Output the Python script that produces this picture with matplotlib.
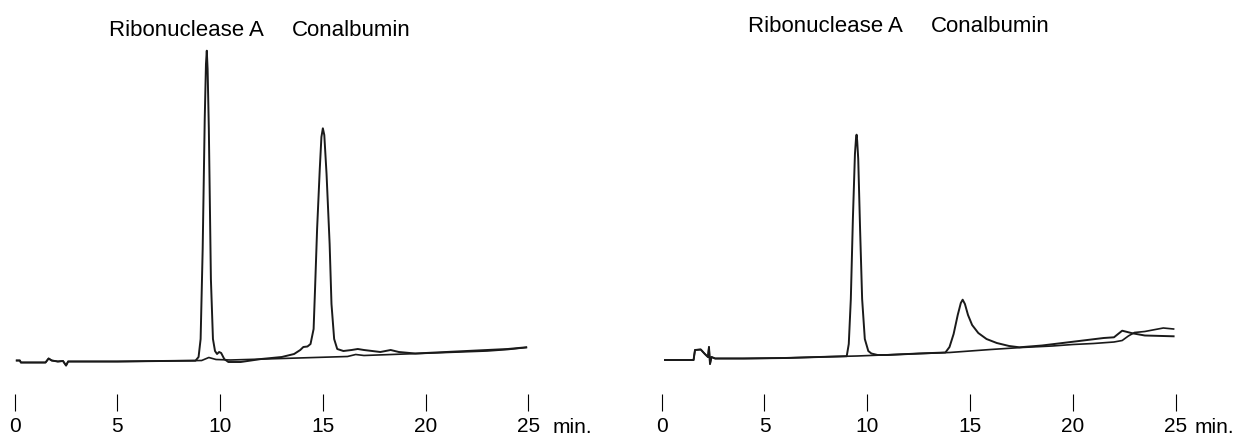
import matplotlib
matplotlib.use("Agg")
import matplotlib.pyplot as plt

plt.rcParams['font.family'] = ['Liberation Sans', 'DejaVu Sans']

# Левая хроматограмма: время (мин) и сигнал (усл. ед.)
left_blank_t = [0.10, 0.25, 0.30, 1.50, 1.65, 1.80, 2.10, 2.35, 2.50, 2.60, 5.0, 8.0, 9.1, 9.45, 9.8,
                10.5, 13.0, 16.2, 16.6, 17.0, 19.0, 21.0, 23.0, 24.0, 24.9]
left_blank_y = [8.5, 8.5, 6.5, 6.5, 10.5, 8.5, 7.5, 8.0, 3.5, 7.5, 7.5, 8.2, 8.5, 11.5, 9.5,
                9.0, 10.5, 12.5, 14.5, 13.5, 15.0, 16.5, 18.0, 19.5, 21.5]

left_sample_t = [0.10, 0.25, 0.30, 1.50, 1.65, 1.80, 2.10, 2.35, 2.50, 2.60, 5.0, 8.0,
                 8.8, 8.95, 9.05, 9.15, 9.25, 9.31, 9.35, 9.39, 9.45, 9.55, 9.65, 9.75, 9.85, 9.95,
                 10.05, 10.2, 10.4, 11.0, 12.0, 13.0, 13.6, 13.9, 14.05, 14.25, 14.4, 14.55, 14.62,
                 14.72, 14.85, 14.93, 15.0, 15.07, 15.18, 15.33, 15.42, 15.55, 15.7, 16.0, 16.4, 16.7,
                 17.0, 17.8, 18.3, 18.7, 19.5, 21.0, 22.5, 24.0, 24.9]
left_sample_y = [8.5, 8.5, 6.5, 6.5, 10.5, 8.5, 7.5, 8.0, 3.5, 7.5, 7.5, 8.2,
                 8.3, 12, 30, 120, 250, 305, 318.3, 300, 240, 90, 30, 18, 15, 17,
                 16, 10, 7, 7, 10, 12, 15, 19, 22, 22.5, 25, 40, 80,
                 140, 200, 232, 240.7, 234, 195, 125, 65, 30, 20, 18, 19, 20,
                 19, 17, 19, 17, 15.5, 17, 18.5, 20, 21.7]

# Правая хроматограмма
right_blank_t = [0.16, 1.55, 1.62, 1.90, 2.10, 2.25, 2.30, 2.35, 2.42, 2.60, 4.0, 6.0, 8.0, 9.5,
                 12.0, 14.0, 16.0, 17.5, 19.0, 20.0, 21.0, 22.0, 22.4, 22.7, 23.0, 23.5, 24.4, 24.9]
right_blank_y = [9, 9, 19, 19.5, 15, 12, 22, 5, 12, 10.5, 10.5, 11, 12.2, 13,
                 15, 16.5, 19.5, 21.5, 23, 24.5, 25.5, 27, 28.5, 33, 36.5, 37.5, 41, 40]

right_sample_t = [0.16, 1.55, 1.62, 1.90, 2.10, 2.25, 2.30, 2.35, 2.42, 2.60, 4.0, 6.0, 8.0,
                  9.0, 9.1, 9.2, 9.3, 9.4, 9.45, 9.48, 9.51, 9.56, 9.65, 9.75, 9.88, 10.05, 10.2,
                  10.5, 11.0, 12.5, 13.8, 14.0, 14.2, 14.4, 14.55, 14.64, 14.75, 14.9, 15.1, 15.4,
                  15.8, 16.3, 16.9, 17.4, 18.5, 19.5, 20.5, 21.5, 22.0, 22.4, 22.9, 23.5, 24.9]
right_sample_y = [9, 9, 19, 19.5, 15, 12, 22, 5, 12, 10.5, 10.5, 11, 12.2,
                  12.8, 25, 70, 150, 215, 230, 234.3, 228, 210, 140, 70, 30, 18, 15.5,
                  14, 14, 15.5, 16.5, 22, 35, 54, 66, 69.3, 65, 54, 44, 36,
                  30, 26, 23, 21.7, 23.5, 26, 28.5, 31, 31.7, 38.3, 35.7, 33.5, 32.7]

ticks = [0, 5, 10, 15, 20, 25]
peak_names = ['Ribonuclease A', 'Conalbumin']

fig = plt.figure(figsize=(12.33, 4.39), dpi=100)
ax1 = fig.add_axes([0, 0, 616 / 1233, 1])
ax2 = fig.add_axes([617 / 1233, 0, 616 / 1233, 1])

panels = [
    (ax1, left_blank_t, left_blank_y, left_sample_t, left_sample_y, (-0.716, 29.27), [4.58, 13.49], 340, 26.19),
    (ax2, right_blank_t, right_blank_y, right_sample_t, right_sample_y, (-2.174, 27.79), [4.21, 13.09], 344, 25.94),
]

for ax, bt, by, st, sy, xlim, name_x, name_y, min_x in panels:
    ax.plot(bt, by, color='#1a1a1a', lw=1.2, solid_joinstyle='round')
    ax.plot(st, sy, color='#1a1a1a', lw=1.4, solid_joinstyle='round')
    ax.set_xlim(*xlim)
    ax.set_ylim(-69, 370)
    ax.set_xticks(ticks)
    ax.set_xticklabels([str(t) for t in ticks])
    ax.tick_params(axis='x', direction='out', length=12.2, width=0.8, pad=4, labelsize=15)
    ax.set_yticks([])
    for side in ['left', 'right', 'top']:
        ax.spines[side].set_visible(False)
    ax.spines['bottom'].set_position(('data', -25))
    ax.spines['bottom'].set_visible(False)
    ax.patch.set_alpha(0)
    for name, nx in zip(peak_names, name_x):
        ax.text(nx, name_y, name, ha='left', va='center', fontsize=16)
    ax.text(min_x, -48, 'min.', ha='left', va='top', fontsize=15)

plt.savefig('out.png', dpi=100)
